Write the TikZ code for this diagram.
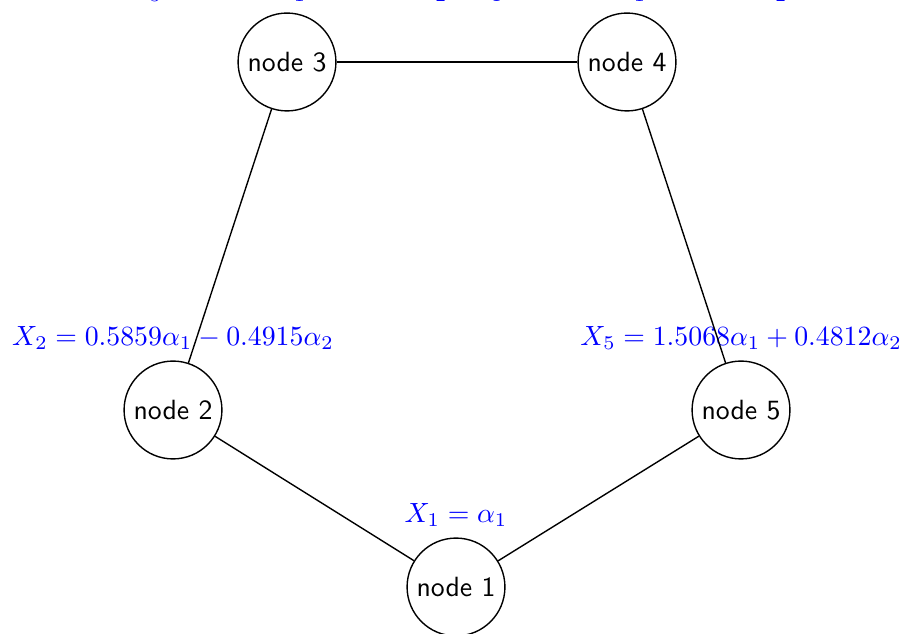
\documentclass[tikz,border=0pt]{standalone}
\begin{document}
\begin{tikzpicture}[x=0.3597pt,y=-0.3597pt,
  vertex/.style={circle,draw,line width=0.5pt,inner sep=0pt,minimum size=35.2pt,font=\sffamily},
  val/.style={text=blue},
  edge/.style={line width=0.5pt},
  label distance=0.4pt]
\useasboundingbox (0,0) rectangle (901,634);
\node[vertex,label={[val]above:$X_1=\alpha_1$}] (n1) at (456,587) {node 1};
\node[vertex,label={[val]above:$X_2=0.5859\alpha_1-0.4915\alpha_2$}] (n2) at (173,410) {node 2};
\node[vertex,label={[val]above:$X_3=0.1682\alpha_1-1.2387\alpha_2$}] (n3) at (287,62) {node 3};
\node[vertex,label={[val]above:$X_4=1.1473\alpha_1-0.6258\alpha_2$}] (n4) at (627,62) {node 4};
\node[vertex,label={[val]above:$X_5=1.5068\alpha_1+0.4812\alpha_2$}] (n5) at (741,410) {node 5};
\draw[edge] (n1) -- (n2);
\draw[edge] (n2) -- (n3);
\draw[edge] (n3) -- (n4);
\draw[edge] (n4) -- (n5);
\draw[edge] (n5) -- (n1);
\end{tikzpicture}
\end{document}
